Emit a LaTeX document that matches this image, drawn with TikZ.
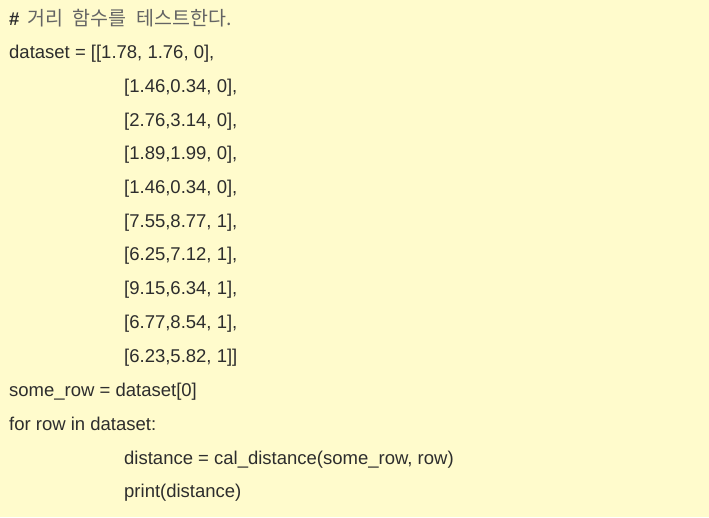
\documentclass[tikz,border=0pt]{standalone}
\usepackage{fontspec}
\setmainfont{Liberation Sans}
\newfontfamily\kofont[WordSpace=2.2]{Noto Sans CJK KR}
\usepackage{xcolor}
\usetikzlibrary{positioning}
\definecolor{notebg}{RGB}{255,251,204}
\definecolor{codetext}{RGB}{45,45,45}
\definecolor{commenttext}{RGB}{100,100,100}
\tikzset{codeline/.style={anchor=base west,inner sep=0pt,text=codetext,font=\fontsize{18.5}{22}\selectfont}}
\begin{document}
\begin{tikzpicture}[x=1pt,y=-1pt]
                      \fill[notebg](0,0)rectangle(709,517);
                      \useasboundingbox(0,0)rectangle(709,517);
                      \node[codeline](comment)at(9,25){\textbf{\#}\hspace{8pt}\textcolor{commenttext}{\kofont\fontsize{19.5}{22}\selectfont 거리 함수를 테스트한다.}};
                      \node[codeline](data)at(9,58.7){dataset = [[1.78, 1.76, 0],};
                      \node[codeline](rowb)at(124,92.4){[1.46,0.34, 0],};
                      \node[codeline](rowc)at(124,126.1){[2.76,3.14, 0],};
                      \node[codeline](rowd)at(124,159.8){[1.89,1.99, 0],};
                      \node[codeline](rowe)at(124,193.5){[1.46,0.34, 0],};
                      \node[codeline](rowf)at(124,227.2){[7.55,8.77, 1],};
                      \node[codeline](rowg)at(124,260.9){[6.25,7.12, 1],};
                      \node[codeline](rowh)at(124,294.6){[9.15,6.34, 1],};
                      \node[codeline](rowi)at(124,328.3){[6.77,8.54, 1],};
                      \node[codeline](rowj)at(124,362){[6.23,5.82, 1]]};
                      \node[codeline](some)at(9,396){some\_row = dataset[0]};
                      \node[codeline](loop)at(9,430){for row in dataset:};
                      \node[codeline](dist)at(124,464.5){distance = cal\_distance(some\_row, row)};
                      \node[codeline](prnt)at(124,497){print(distance)};
                  \end{tikzpicture}
\end{document}
